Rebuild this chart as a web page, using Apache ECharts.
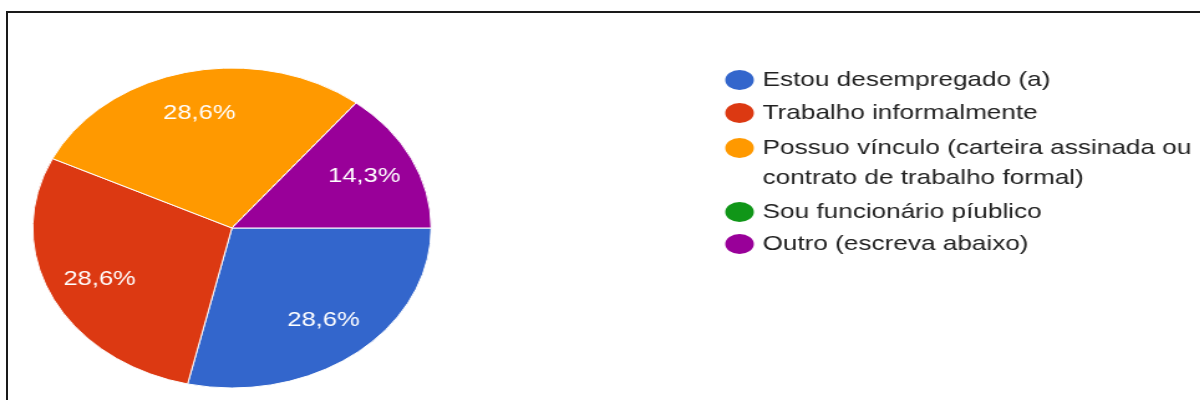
<!DOCTYPE html>
<html>
<head>
<meta charset="utf-8">
<script src="https://cdn.jsdelivr.net/npm/echarts@6/dist/echarts.min.js"></script>
<style>
  html, body { margin: 0; padding: 0; background: #fff; overflow: hidden; width: 1200px; height: 400px; }
  #wrap { position: relative; width: 1200px; height: 400px; overflow: hidden; }
  #chart { position: absolute; left: 0; top: 0; width: 964px; height: 400px; transform: scaleX(1.245); transform-origin: 0 0; }
  #frame { position: absolute; left: 6px; top: 11px; width: 1300px; height: 500px; border-left: 2px solid #1a1a1a; border-top: 2px solid #1a1a1a; pointer-events: none; }
</style>
</head>
<body>
<div id="wrap">
  <div id="chart"></div>
  <div id="frame"></div>
</div>
<script>
const categories = [
  'Estou desempregado (a)',
  'Trabalho informalmente',
  'Possuo vínculo (carteira assinada ou contrato de trabalho formal)',
  'Sou funcionário píublico',
  'Outro (escreva abaixo)'
];
const counts = [2, 2, 2, 0, 1];
const colors = ['#3366CC', '#DC3912', '#FF9900', '#109618', '#990099'];

const total = counts.reduce((a, b) => a + b, 0);
const pieData = categories.map((name, i) => ({ name: name, value: counts[i], itemStyle: { color: colors[i] } }));
const labelData = categories.map((name, i) => ({ name: name, value: counts[i] }));

const font = 'Arial, "Liberation Sans", sans-serif';
const ellipseIcon = 'path://M10,0A10,10,0,1,1,10,20A10,10,0,1,1,10,0Z';

function legendBase(names, top, gap) {
  return {
    data: names,
    orient: 'vertical',
    left: 580.5,
    top: top,
    padding: 0,
    itemGap: gap,
    itemWidth: 25,
    itemHeight: 22,
    icon: ellipseIcon,
    symbolKeepAspect: false,
    selectedMode: false,
    textStyle: { fontFamily: font, fontSize: 21, color: '#222', lineHeight: 30, padding: [0, 0, 0, 1] }
  };
}

const chart = echarts.init(document.getElementById('chart'), null, { renderer: 'canvas' });
chart.setOption({
  animation: false,
  backgroundColor: '#fff',
  legend: [
    legendBase([categories[0], categories[1]], 65, 3),
    Object.assign(legendBase([categories[2]], 103, 0), {
      formatter: function (n) { return '\n' + n.replace(' ou ', ' ou\n'); }
    }),
    legendBase([categories[3], categories[4]], 197, 2)
  ],
  series: [
    {
      type: 'pie',
      center: [186.3, 228],
      radius: [0, 160],
      startAngle: 0,
      clockwise: true,
      silent: true,
      label: { show: false },
      labelLine: { show: false },
      itemStyle: { borderColor: '#fff', borderWidth: 1 },
      emphasis: { disabled: true },
      data: pieData
    },
    {
      type: 'pie',
      center: [186.3, 228],
      radius: [70, 160],
      startAngle: 0,
      clockwise: true,
      silent: true,
      itemStyle: { color: 'transparent', borderWidth: 0 },
      emphasis: { disabled: true },
      labelLine: { show: false },
      label: {
        show: true,
        position: 'inside',
        color: '#fff',
        fontFamily: font,
        fontSize: 20.5,
        formatter: function (p) {
          if (!p.value) return '';
          return (p.value / total * 100).toFixed(1).replace('.', ',') + '%';
        }
      },
      data: labelData
    }
  ]
});
</script>
</body>
</html>
